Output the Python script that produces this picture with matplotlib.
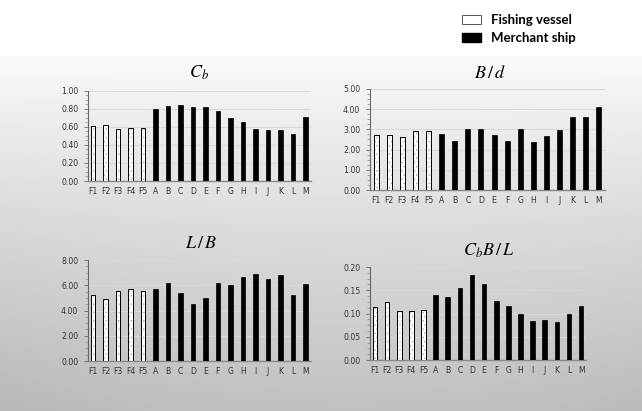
import numpy as np
import matplotlib
matplotlib.use("Agg")
import matplotlib.pyplot as plt
from matplotlib.patches import Patch
from matplotlib.ticker import MultipleLocator, AutoMinorLocator, FormatStrFormatter

plt.rcParams['font.family'] = ['DejaVu Sans']
plt.rcParams['mathtext.fontset'] = 'stix'
plt.rcParams['hatch.linewidth'] = 0.5

categories = ["F1", "F2", "F3", "F4", "F5", "A", "B", "C", "D", "E", "F", "G", "H", "I", "J", "K", "L", "M"]
n_fishing = 5

cb_values = [0.61, 0.62, 0.57, 0.59, 0.59, 0.80, 0.83, 0.84, 0.82, 0.82, 0.77, 0.70, 0.65, 0.57, 0.56, 0.56, 0.52, 0.71]
bd_values = [2.74, 2.74, 2.64, 2.91, 2.91, 2.78, 2.41, 3.01, 3.04, 2.74, 2.41, 3.01, 2.37, 2.68, 2.98, 3.61, 3.61, 4.13]
lb_values = [5.22, 4.91, 5.51, 5.67, 5.51, 5.73, 6.17, 5.36, 4.51, 4.99, 6.17, 6.02, 6.65, 6.91, 6.46, 6.81, 5.20, 6.10]
cbbl_values = [0.115, 0.125, 0.105, 0.105, 0.107, 0.140, 0.136, 0.155, 0.183, 0.164, 0.126, 0.117, 0.099, 0.083, 0.087, 0.082, 0.100, 0.117]

titles = [r"$C_b$", r"$B\,/\,d$", r"$L\,/\,B$", r"$C_bB\,/\,L$"]
legend_labels = ["Fishing vessel", "Merchant ship"]

W, H = 642, 411
fig = plt.figure(figsize=(W / 100, H / 100), dpi=100)

# background gradient
bg = fig.add_axes([0, 0, 1, 1], zorder=-10)
yy, xx = np.mgrid[0:H, 0:W]
t = np.clip((yy - 57) / (H - 57), 0, 1)
xn = (xx / W - 0.55)
v = 255 - 58 * t ** 0.9 - 30 * (xn ** 2) * t - 4 * (yy >= 57)
v = np.clip(v, 0, 255) / 255.0
bg.imshow(np.dstack([v, v, v]), aspect='auto', extent=[0, W, H, 0])
bg.axis('off')

def px_rect(x0, x1, ytop, ybot):
    return [x0 / W, 1 - ybot / H, (x1 - x0) / W, (ybot - ytop) / H]

panels = [
    (px_rect(88, 311, 90.6, 181), cb_values, 1.0, 0.2, (-0.4, 17.45), (199, 73)),
    (px_rect(370, 605, 89, 190), bd_values, 5.0, 1.0, (-0.46, 17.46), (490, 73)),
    (px_rect(88, 311, 260, 361), lb_values, 8.0, 2.0, (-0.4, 17.45), (201, 243)),
    (px_rect(370, 586, 267, 360), cbbl_values, 0.2, 0.05, (-0.41, 17.4), (489, 251)),
]

x = np.arange(len(categories))
for (rect, vals, ymax, step, xlim, tpos), title in zip(panels, titles):
    ax = fig.add_axes(rect)
    ax.set_facecolor('none')
    ax.bar(x[:n_fishing], vals[:n_fishing], width=0.38, color='white',
           edgecolor='#aaaaaa', linewidth=0, hatch='....', zorder=3)
    ax.bar(x[:n_fishing], vals[:n_fishing], width=0.38, fill=False,
           edgecolor='black', linewidth=0.7, zorder=4)
    ax.bar(x[n_fishing:], vals[n_fishing:], width=0.38, color='black',
           edgecolor='black', linewidth=0.5, zorder=3)
    ax.set_ylim(0, ymax)
    ax.set_xlim(*xlim)
    ax.yaxis.set_major_locator(MultipleLocator(step))
    ax.yaxis.set_minor_locator(AutoMinorLocator(4))
    ax.yaxis.set_major_formatter(FormatStrFormatter('%.2f'))
    ax.set_xticks(x)
    ax.set_xticklabels(categories)
    ax.grid(axis='y', color='#d9d9d9', linewidth=0.8, zorder=0)
    for s in ['top', 'right']:
        ax.spines[s].set_visible(False)
    ax.spines['left'].set_color('#666666')
    ax.spines['bottom'].set_color('#888888')
    ax.spines['left'].set_linewidth(0.8)
    ax.spines['bottom'].set_linewidth(1.0)
    ax.tick_params(axis='y', which='major', length=3, width=0.6, color='#666666',
                   labelsize=5.6, labelcolor='#333333', pad=4)
    ax.tick_params(axis='y', which='minor', length=2, width=0.5, color='#888888')
    ax.tick_params(axis='x', length=0, labelsize=5.6, labelcolor='#333333', pad=4)
    fig.text(tpos[0] / W, 1 - tpos[1] / H, title, fontsize=13, ha='center', va='center')

fs = 9.5
fpx = fs * 100 / 72
handles = [Patch(facecolor='white', edgecolor='#555555', linewidth=0.7),
           Patch(facecolor='black', edgecolor='black')]
leg = fig.legend(handles, legend_labels, loc='upper left',
                 bbox_to_anchor=((455 - 0.4 * fpx) / W, 1 - 2 / H), frameon=False,
                 prop={'family': 'Lato', 'weight': 'bold', 'size': fs}, handlelength=1.5,
                 handleheight=0.7, labelspacing=0.5, handletextpad=0.75)

fig.savefig("out.png", dpi=100)
